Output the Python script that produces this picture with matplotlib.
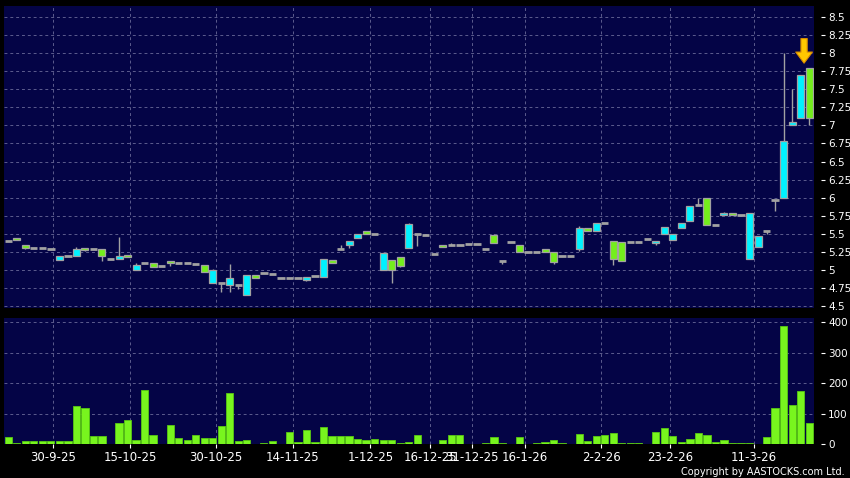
import matplotlib.pyplot as plt
import numpy as np

# Daily OHLC (cyan = close > open, green = close < open, gray = unchanged)
opens = [5.40, 5.44, 5.35, 5.30, 5.30, 5.29, 5.14, 5.19, 5.19, 5.30,
         5.29, 5.29, 5.15, 5.15, 5.21, 5.00, 5.10, 5.10, 5.06, 5.13,
         5.10, 5.10, 5.09, 5.07, 4.82, 4.82, 4.79, 4.80, 4.65, 4.93,
         4.96, 4.94, 4.89, 4.89, 4.89, 4.86, 4.92, 4.91, 5.14, 5.29,
         5.35, 5.44, 5.54, 5.50, 5.00, 5.14, 5.18, 5.31, 5.50, 5.49,
         5.22, 5.35, 5.35, 5.35, 5.36, 5.36, 5.29, 5.49, 5.12, 5.39,
         5.35, 5.25, 5.25, 5.29, 5.25, 5.20, 5.20, 5.29, 5.58, 5.54,
         5.65, 5.40, 5.39, 5.39, 5.39, 5.43, 5.37, 5.50, 5.42, 5.58,
         5.68, 5.90, 6.00, 5.62, 5.76, 5.79, 5.76, 5.15, 5.32, 5.54,
         5.97, 6.00, 7.00, 7.10, 7.80]
highs = [5.40, 5.44, 5.35, 5.30, 5.30, 5.29, 5.19, 5.19, 5.32, 5.30,
         5.29, 5.29, 5.15, 5.46, 5.21, 5.10, 5.10, 5.10, 5.06, 5.13,
         5.10, 5.10, 5.09, 5.07, 5.02, 4.82, 5.09, 4.80, 4.93, 4.93,
         4.96, 4.94, 4.89, 4.89, 4.89, 4.90, 4.92, 5.15, 5.14, 5.34,
         5.40, 5.50, 5.54, 5.50, 5.24, 5.14, 5.18, 5.65, 5.50, 5.49,
         5.22, 5.35, 5.37, 5.35, 5.36, 5.36, 5.29, 5.50, 5.12, 5.39,
         5.35, 5.25, 5.25, 5.29, 5.25, 5.20, 5.20, 5.61, 5.58, 5.65,
         5.65, 5.40, 5.39, 5.39, 5.39, 5.43, 5.40, 5.60, 5.50, 5.65,
         5.89, 5.99, 6.00, 5.62, 5.80, 5.79, 5.76, 5.79, 5.47, 5.54,
         5.97, 8.00, 7.50, 7.70, 7.80]
lows = [5.40, 5.41, 5.29, 5.30, 5.30, 5.29, 5.14, 5.19, 5.19, 5.26,
        5.29, 5.13, 5.15, 5.15, 5.18, 5.00, 5.10, 5.04, 5.06, 5.06,
        5.10, 5.10, 5.09, 4.97, 4.82, 4.70, 4.69, 4.74, 4.65, 4.89,
        4.96, 4.94, 4.89, 4.89, 4.89, 4.85, 4.92, 4.91, 5.10, 5.29,
        5.31, 5.44, 5.50, 5.50, 5.00, 4.82, 5.04, 5.31, 5.33, 5.49,
        5.22, 5.32, 5.35, 5.35, 5.36, 5.36, 5.29, 5.38, 5.09, 5.39,
        5.25, 5.25, 5.25, 5.25, 5.08, 5.20, 5.20, 5.27, 5.54, 5.54,
        5.65, 5.065, 5.13, 5.39, 5.39, 5.43, 5.34, 5.50, 5.42, 5.58,
        5.68, 5.90, 5.62, 5.62, 5.76, 5.76, 5.76, 5.15, 5.32, 5.50,
        5.82, 6.00, 7.00, 7.10, 7.00]
closes = [5.40, 5.41, 5.31, 5.30, 5.30, 5.29, 5.19, 5.19, 5.29, 5.28,
          5.29, 5.19, 5.15, 5.20, 5.18, 5.07, 5.10, 5.04, 5.06, 5.10,
          5.10, 5.10, 5.09, 4.97, 5.00, 4.82, 4.89, 4.80, 4.93, 4.89,
          4.96, 4.94, 4.89, 4.89, 4.89, 4.90, 4.92, 5.15, 5.10, 5.29,
          5.40, 5.50, 5.50, 5.50, 5.24, 5.00, 5.05, 5.63, 5.50, 5.49,
          5.22, 5.32, 5.35, 5.35, 5.36, 5.36, 5.29, 5.38, 5.12, 5.39,
          5.25, 5.25, 5.25, 5.25, 5.11, 5.20, 5.20, 5.58, 5.54, 5.65,
          5.65, 5.15, 5.13, 5.39, 5.39, 5.43, 5.40, 5.60, 5.50, 5.65,
          5.89, 5.90, 5.62, 5.62, 5.79, 5.76, 5.76, 5.79, 5.47, 5.54,
          5.97, 6.78, 7.05, 7.70, 7.10]
volumes = [22, 3, 10, 10, 10, 10, 10, 10, 126, 119,
           25, 25, 0, 68, 80, 14, 179, 30, 1, 64,
           20, 13, 29, 21, 19, 59, 166, 10, 12, 0,
           2, 9, 0, 40, 7, 46, 5, 56, 26, 26,
           25, 18, 13, 18, 13, 13, 3, 5, 30, 0,
           0, 14, 30, 30, 0, 0, 4, 23, 3, 1,
           23, 1, 4, 5, 14, 3, 0, 34, 10, 27,
           30, 36, 4, 2, 2, 1, 40, 53, 26, 7,
           18, 36, 31, 7, 12, 3, 3, 4, 0, 24,
           118, 389, 129, 175, 69]

date_labels = ['30-9-25', '15-10-25', '30-10-25', '14-11-25', '1-12-25', '16-12-25',
               '31-12-25', '16-1-26', '2-2-26', '23-2-26', '11-3-26']
date_pos = [5.3, 14.3, 24.4, 33.4, 42.5, 49.5, 54.4, 60.6, 69.6, 77.7, 87.5]

price_ticks = [8.5, 8.25, 8, 7.75, 7.5, 7.25, 7, 6.75, 6.5, 6.25, 6, 5.75, 5.5, 5.25, 5, 4.75, 4.5]
price_labels = ['8.5', '8.25', '8', '7.75', '7.5', '7.25', '7', '6.75', '6.5', '6.25',
                '6', '5.75', '5.5', '5.25', '5', '4.75', '4.5']
vol_ticks = [0, 100, 200, 300, 400]

NAVY = '#040446'
GRID = '#5c5c8e'
CYAN = '#00f2ff'
GREEN = '#74ee1c'
GRAY = '#a2a2a2'

fig = plt.figure(figsize=(8.5, 4.78), dpi=100, facecolor='black')
ax = fig.add_axes([0.0047, 0.3563, 0.9533, 0.6311])
axv = fig.add_axes([0.0047, 0.0705, 0.9533, 0.2636], sharex=ax)

x = np.arange(len(closes))
o = np.array(opens)
c = np.array(closes)

# wicks
ax.vlines(x, lows, highs, color=GRAY, lw=1, zorder=2)
# bodies
for i in x:
    if c[i] == o[i]:
        ax.hlines(o[i], i - 0.43, i + 0.43, color=GRAY, lw=2, zorder=3)
    else:
        col = CYAN if c[i] > o[i] else GREEN
        ax.bar(i, abs(c[i] - o[i]), bottom=min(o[i], c[i]), width=0.82,
               color=col, edgecolor=GRAY, lw=0.9, zorder=3)

# arrow on the latest candle
ax.annotate('', xy=(93.4, 7.86), xytext=(93.4, 8.2),
            arrowprops=dict(facecolor='#ffc800', edgecolor='#d98c00', lw=0.8,
                            width=4.5, headwidth=12, headlength=8, shrink=0))

# volume
axv.bar(x, volumes, width=0.85, color='#78f51e', edgecolor='#58c812', lw=0.6, zorder=3)

for a in (ax, axv):
    a.set_facecolor(NAVY)
    for s in a.spines.values():
        s.set_visible(False)
    a.yaxis.tick_right()
    a.spines['right'].set_position(('outward', 5))
    a.tick_params(axis='y', colors='white', labelsize=7.5, length=3, pad=2, width=0.8)
    a.grid(True, color=GRID, linestyle=(0, (3, 3)), lw=0.7, zorder=0)
    a.set_axisbelow(True)

ax.set_xlim(-0.5, 94.6)
ax.set_ylim(4.48, 8.65)
ax.set_yticks(price_ticks)
ax.set_yticklabels(price_labels)
ax.tick_params(axis='x', bottom=False, labelbottom=False)

axv.set_ylim(-1, 413)
axv.set_yticks(vol_ticks)
axv.set_xticks(date_pos)
axv.set_xticklabels(date_labels)
axv.tick_params(axis='x', colors='white', labelsize=8.5, length=3, pad=2, width=0.8)

fig.text(0.994, 0.002, 'Copyright by AASTOCKS.com Ltd.', color='white',
         fontsize=7, ha='right', va='bottom')

fig.savefig('out.png', dpi=100, facecolor='black')
